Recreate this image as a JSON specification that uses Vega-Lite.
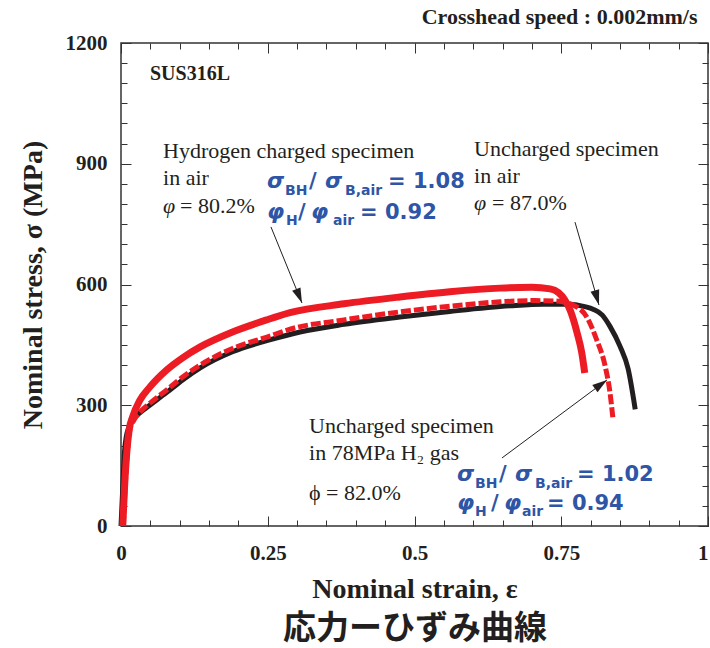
{
  "$schema": "https://vega.github.io/schema/vega-lite/v6.json",
  "width": 587,
  "height": 483,
  "autosize": {"type": "none"},
  "padding": {"left": 121, "top": 43, "right": 2, "bottom": 122},
  "background": "white",
  "title": {"text": "Crosshead speed : 0.002mm/s", "anchor": "end", "font": "Liberation Serif", "fontSize": 22, "fontWeight": "bold", "color": "#231F20", "offset": 3, "dx": -11},
  "config": {
    "view": {"stroke": "#333333", "strokeWidth": 1.5},
    "axis": {"grid": false, "domain": false, "tickColor": "#333333", "tickWidth": 1}
  },
  "datasets": {
    "black": [
      {"e":0,"s":0},{"e":0.003,"s":95},{"e":0.006,"s":185},{"e":0.009,"s":222},{"e":0.013,"s":243},{"e":0.02,"s":262},{"e":0.032,"s":281},{"e":0.049,"s":300},{"e":0.078,"s":332},{"e":0.105,"s":363},{"e":0.135,"s":393},{"e":0.19,"s":433},{"e":0.25,"s":461},{"e":0.305,"s":482},{"e":0.38,"s":501},{"e":0.475,"s":519},{"e":0.56,"s":533},{"e":0.663,"s":547},{"e":0.72,"s":551},{"e":0.76,"s":551},{"e":0.79,"s":545},{"e":0.805,"s":538},{"e":0.82,"s":524},{"e":0.833,"s":496},{"e":0.85,"s":447},{"e":0.864,"s":390},{"e":0.876,"s":290}
    ],
    "redsolid": [
      {"e":0.003,"s":0},{"e":0.006,"s":95},{"e":0.01,"s":185},{"e":0.014,"s":240},{"e":0.02,"s":272},{"e":0.032,"s":312},{"e":0.049,"s":345},{"e":0.078,"s":388},{"e":0.105,"s":418},{"e":0.135,"s":445},{"e":0.19,"s":482},{"e":0.248,"s":512},{"e":0.288,"s":530},{"e":0.38,"s":552},{"e":0.475,"s":569},{"e":0.56,"s":582},{"e":0.646,"s":591},{"e":0.7,"s":593},{"e":0.731,"s":589},{"e":0.745,"s":580},{"e":0.756,"s":562},{"e":0.765,"s":537},{"e":0.777,"s":480},{"e":0.785,"s":430},{"e":0.79,"s":380}
    ],
    "reddash": [
      {"e":0.004,"s":0},{"e":0.007,"s":95},{"e":0.011,"s":185},{"e":0.015,"s":238},{"e":0.022,"s":263},{"e":0.035,"s":287},{"e":0.05,"s":306},{"e":0.078,"s":338},{"e":0.105,"s":370},{"e":0.135,"s":400},{"e":0.19,"s":441},{"e":0.25,"s":470},{"e":0.288,"s":489},{"e":0.38,"s":512},{"e":0.475,"s":532},{"e":0.56,"s":546},{"e":0.646,"s":557},{"e":0.7,"s":560},{"e":0.74,"s":559},{"e":0.77,"s":549},{"e":0.794,"s":518},{"e":0.81,"s":464},{"e":0.825,"s":396},{"e":0.833,"s":332},{"e":0.838,"s":268}
    ],
    "arrows": [
      {"id":"a1","x":0.2555,"y":743,"x2":0.3083,"y2":554},
      {"id":"a2","x":0.7734,"y":755,"x2":0.8143,"y2":549},
      {"id":"a3","x":0.649,"y":169,"x2":0.828,"y2":363}
    ],
    "blacktext": [
      {"t":"Hydrogen charged specimen","x":0.0716,"y":914},
      {"t":"in air","x":0.0716,"y":847},
      {"t":"= 80.2%","x":0.1005,"y":778},
      {"t":"Uncharged specimen","x":0.6014,"y":919},
      {"t":"in air","x":0.6014,"y":852},
      {"t":"= 87.0%","x":0.632,"y":785},
      {"t":"Uncharged specimen","x":0.3203,"y":231},
      {"t":"in 78MPa H₂ gas","x":0.3203,"y":164},
      {"t":"ϕ = 82.0%","x":0.3203,"y":65}
    ],
    "phiItalic": [
      {"t":"φ","x":0.0716,"y":778},
      {"t":"φ","x":0.6014,"y":785}
    ],
    "label": [{"t":"SUS316L","x":0.0494,"y":1108}],
    "blueGreek": [
      {"t":"σ","x":0.2487,"y":840},{"t":"σ","x":0.3475,"y":840},{"t":"φ","x":0.2487,"y":763},{"t":"φ","x":0.3237,"y":763},
      {"t":"σ","x":0.5724,"y":112},{"t":"σ","x":0.6712,"y":112},{"t":"φ","x":0.5724,"y":40},{"t":"φ","x":0.6525,"y":40}
    ],
    "blueBig": [
      {"t":"/","x":0.3203,"y":840},{"t":"= 1.08","x":0.4549,"y":840},{"t":"/","x":0.3015,"y":763},{"t":"= 0.92","x":0.4072,"y":763},
      {"t":"/","x":0.644,"y":112},{"t":"= 1.02","x":0.7768,"y":112},{"t":"/","x":0.6303,"y":40},{"t":"= 0.94","x":0.7257,"y":40}
    ],
    "blueSub": [
      {"t":"BH","x":0.2794,"y":822},{"t":"B,air","x":0.3816,"y":822},{"t":"H","x":0.2811,"y":748},{"t":"air","x":0.3612,"y":748},
      {"t":"BH","x":0.6031,"y":95},{"t":"B,air","x":0.7053,"y":95},{"t":"H","x":0.6031,"y":25},{"t":"air","x":0.6831,"y":25}
    ]
  },
  "layer": [
    {
      "data": {"name": "black"},
      "mark": {"type": "line", "color": "#231F20", "strokeWidth": 5, "interpolate": "monotone"},
      "encoding": {
        "x": {"field": "e", "type": "quantitative", "scale": {"domain": [0, 1], "nice": false, "zero": false},
          "axis": {"orient": "bottom", "values": [0, 0.25, 0.5, 0.75, 1], "format": ".2~f", "tickSize": -10, "labelPadding": 26, "labelFlush": false, "labelOverlap": false,
            "labelAlign": {"condition": {"test": "datum.value === 1", "value": "right"}, "value": "center"},
            "labelFont": "Liberation Serif", "labelFontSize": 21, "labelFontWeight": "bold", "labelColor": "#231F20",
            "title": "Nominal strain, ε", "titleFont": "Liberation Serif", "titleFontSize": 28, "titleFontWeight": "bold", "titleColor": "#231F20", "titlePadding": 12}},
        "y": {"field": "s", "type": "quantitative", "scale": {"domain": [0, 1200], "nice": false, "zero": false},
          "axis": {"orient": "left", "values": [0, 300, 600, 900, 1200], "format": "d", "tickSize": -10, "labelPadding": 24,
            "labelFont": "Liberation Serif", "labelFontSize": 21, "labelFontWeight": "bold", "labelColor": "#231F20",
            "title": "Nominal stress, σ (MPa)", "titleFont": "Liberation Serif", "titleFontSize": 28, "titleFontWeight": "bold", "titleColor": "#231F20", "titlePadding": 18}}
      }
    },
    {
      "data": {"name": "reddash"},
      "mark": {"type": "line", "color": "#ED1C24", "strokeWidth": 5, "strokeDash": [10, 3], "interpolate": "monotone"},
      "encoding": {
        "x": {"field": "e", "type": "quantitative",
          "axis": {"orient": "bottom", "values": [0,0.05,0.1,0.15,0.2,0.25,0.3,0.35,0.4,0.45,0.5,0.55,0.6,0.65,0.7,0.75,0.8,0.85,0.9,0.95,1], "tickSize": -6, "labels": false,
            "title": "応力ーひずみ曲線", "titleFont": "Noto Sans CJK JP", "titleFontSize": 33, "titleFontWeight": "bold", "titleColor": "#231F20", "titlePadding": 86}},
        "y": {"field": "s", "type": "quantitative",
          "axis": {"orient": "left", "values": [0,50,100,150,200,250,300,350,400,450,500,550,600,650,700,750,800,850,900,950,1000,1050,1100,1150,1200], "tickSize": -6, "labels": false, "title": null}}
      }
    },
    {
      "data": {"name": "redsolid"},
      "mark": {"type": "line", "color": "#ED1C24", "strokeWidth": 7, "interpolate": "monotone"},
      "encoding": {
        "x": {"field": "e", "type": "quantitative",
          "axis": {"orient": "top", "values": [0,0.05,0.1,0.15,0.2,0.25,0.3,0.35,0.4,0.45,0.5,0.55,0.6,0.65,0.7,0.75,0.8,0.85,0.9,0.95,1], "tickSize": -6, "labels": false, "title": null}},
        "y": {"field": "s", "type": "quantitative",
          "axis": {"orient": "right", "values": [0,50,100,150,200,250,300,350,400,450,500,550,600,650,700,750,800,850,900,950,1000,1050,1100,1150,1200], "tickSize": -6, "labels": false, "title": null}}
      }
    },
    {
      "data": {"name": "arrows"},
      "mark": {"type": "rule", "color": "#231F20", "strokeWidth": 1},
      "encoding": {
        "x": {"field": "x", "type": "quantitative",
          "axis": {"orient": "top", "values": [0, 0.25, 0.5, 0.75, 1], "tickSize": -10, "labels": false, "title": null}},
        "y": {"field": "y", "type": "quantitative",
          "axis": {"orient": "right", "values": [0, 300, 600, 900, 1200], "tickSize": -10, "labels": false, "title": null}},
        "x2": {"field": "x2"},
        "y2": {"field": "y2"}
      }
    },
    {
      "data": {"name": "arrows"},
      "transform": [{"filter": "datum.id === 'a1'"}],
      "mark": {"type": "point", "shape": "M0,0L0.6,2L-0.6,2Z", "size": 225, "filled": true, "color": "#231F20", "opacity": 1, "angle": 157.8},
      "encoding": {"x": {"field": "x2", "type": "quantitative", "axis": null}, "y": {"field": "y2", "type": "quantitative", "axis": null}}
    },
    {
      "data": {"name": "arrows"},
      "transform": [{"filter": "datum.id === 'a2'"}],
      "mark": {"type": "point", "shape": "M0,0L0.6,2L-0.6,2Z", "size": 225, "filled": true, "color": "#231F20", "opacity": 1, "angle": 163.9},
      "encoding": {"x": {"field": "x2", "type": "quantitative", "axis": null}, "y": {"field": "y2", "type": "quantitative", "axis": null}}
    },
    {
      "data": {"name": "arrows"},
      "transform": [{"filter": "datum.id === 'a3'"}],
      "mark": {"type": "point", "shape": "M0,0L0.6,2L-0.6,2Z", "size": 225, "filled": true, "color": "#231F20", "opacity": 1, "angle": 53.9},
      "encoding": {"x": {"field": "x2", "type": "quantitative", "axis": null}, "y": {"field": "y2", "type": "quantitative", "axis": null}}
    },
    {
      "data": {"name": "blacktext"},
      "mark": {"type": "text", "font": "Liberation Serif", "fontSize": 22, "color": "#231F20", "align": "left", "baseline": "alphabetic"},
      "encoding": {"x": {"field": "x", "type": "quantitative", "axis": null}, "y": {"field": "y", "type": "quantitative", "axis": null}, "text": {"field": "t"}}
    },
    {
      "data": {"name": "phiItalic"},
      "mark": {"type": "text", "font": "Liberation Serif", "fontSize": 22, "fontStyle": "italic", "color": "#231F20", "align": "left", "baseline": "alphabetic"},
      "encoding": {"x": {"field": "x", "type": "quantitative", "axis": null}, "y": {"field": "y", "type": "quantitative", "axis": null}, "text": {"field": "t"}}
    },
    {
      "data": {"name": "label"},
      "mark": {"type": "text", "font": "Liberation Serif", "fontSize": 20, "fontWeight": "bold", "color": "#231F20", "align": "left", "baseline": "alphabetic"},
      "encoding": {"x": {"field": "x", "type": "quantitative", "axis": null}, "y": {"field": "y", "type": "quantitative", "axis": null}, "text": {"field": "t"}}
    },
    {
      "data": {"name": "blueGreek"},
      "mark": {"type": "text", "font": "DejaVu Sans", "fontSize": 22, "fontWeight": "bold", "fontStyle": "italic", "color": "#2E55A6", "align": "left", "baseline": "alphabetic"},
      "encoding": {"x": {"field": "x", "type": "quantitative", "axis": null}, "y": {"field": "y", "type": "quantitative", "axis": null}, "text": {"field": "t"}}
    },
    {
      "data": {"name": "blueBig"},
      "mark": {"type": "text", "font": "DejaVu Sans", "fontSize": 21, "fontWeight": "bold", "color": "#2E55A6", "align": "left", "baseline": "alphabetic"},
      "encoding": {"x": {"field": "x", "type": "quantitative", "axis": null}, "y": {"field": "y", "type": "quantitative", "axis": null}, "text": {"field": "t"}}
    },
    {
      "data": {"name": "blueSub"},
      "mark": {"type": "text", "font": "DejaVu Sans", "fontSize": 14, "fontWeight": "bold", "color": "#2E55A6", "align": "left", "baseline": "alphabetic"},
      "encoding": {"x": {"field": "x", "type": "quantitative", "axis": null}, "y": {"field": "y", "type": "quantitative", "axis": null}, "text": {"field": "t"}}
    }
  ],
  "resolve": {"axis": {"x": "independent", "y": "independent"}}
}
